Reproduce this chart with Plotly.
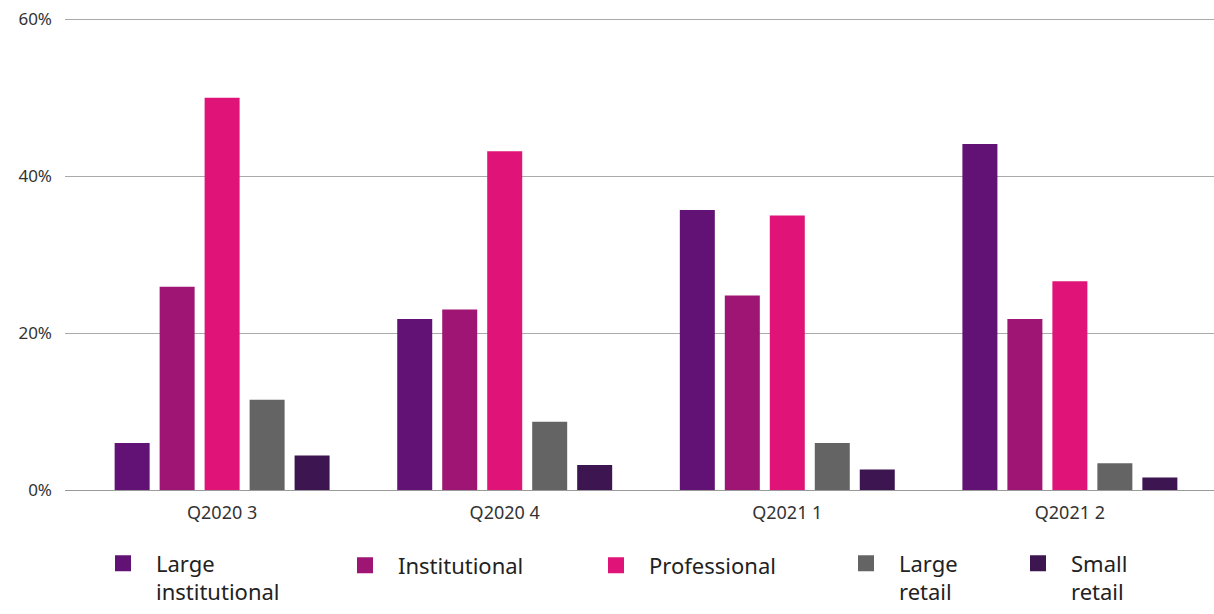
import plotly.graph_objects as go

quarters = ["Q2020 3", "Q2020 4", "Q2021 1", "Q2021 2"]
series_names = ["Large<br>institutional", "Institutional", "Professional", "Large<br>retail", "Small<br>retail"]
large_institutional = [6.0, 21.8, 35.7, 44.1]
institutional = [25.9, 23.0, 24.8, 21.8]
professional = [50.0, 43.2, 35.0, 26.6]
large_retail = [11.5, 8.7, 6.0, 3.4]
small_retail = [4.4, 3.2, 2.6, 1.6]
colors = ["#621274", "#9e1574", "#e01478", "#646464", "#3d1551"]
y_ticks = [0, 20, 40, 60]
y_tick_labels = ["0%", "20%", "40%", "60%"]
legend_x_px = [115, 357, 608, 858, 1030]

values = [large_institutional, institutional, professional, large_retail, small_retail]

W, H = 1214, 614
PLOT_L, PLOT_W = 65, 1149
PLOT_T, PLOT_H = 17, 473
LEGEND_BOTTOM = 613.5
LEGEND_TOP = 544.5

fig = go.Figure()
layout_legends = {}
for i, (name, vals, col) in enumerate(zip(series_names, values, colors)):
    lg = "legend" if i == 0 else f"legend{i+1}"
    fig.add_trace(go.Bar(x=quarters, y=vals, name=name, marker=dict(color=col, line=dict(width=0)),
                         showlegend=False))
    fig.add_trace(go.Scatter(x=[None], y=[None], mode="markers", name=name, legend=lg,
                             marker=dict(symbol="square", size=18, color=col)))
    two_line = "<br>" in name
    if two_line:
        ly, yanchor = (PLOT_T + PLOT_H - LEGEND_BOTTOM) / PLOT_H, "bottom"
    else:
        ly, yanchor = (PLOT_T + PLOT_H - LEGEND_TOP) / PLOT_H, "top"
    layout_legends[lg] = dict(
        x=(legend_x_px[i] - 25 - PLOT_L) / PLOT_W, xanchor="left",
        y=ly, yanchor=yanchor,
        font=dict(size=22, family="Noto Sans, sans-serif", color="#222222"),
        valign="top", itemwidth=56, bgcolor="rgba(0,0,0,0)",
    )

fig.update_layout(
    width=W, height=H,
    barmode="group", bargap=0.204, bargroupgap=0.222,
    plot_bgcolor="white", paper_bgcolor="white",
    margin=dict(l=PLOT_L, r=0, t=PLOT_T, b=H - PLOT_T - PLOT_H),
    font=dict(family="Noto Sans, sans-serif", color="#333333"),
    xaxis=dict(range=[-0.556, 3.51], showgrid=False, showline=False, zeroline=False,
               automargin=False,
               ticks="", tickfont=dict(size=18, color="#333333"), ticklabelstandoff=10),
    yaxis=dict(range=[0, 60.3], tickvals=y_ticks, ticktext=y_tick_labels,
               automargin=False,
               showgrid=True, gridcolor="#aaaaaa", gridwidth=1,
               zeroline=True, zerolinecolor="#999999", zerolinewidth=1,
               tickfont=dict(size=17, color="#333333"), ticklabelstandoff=12, showline=False),
    **layout_legends,
)

fig.write_html("out.html", config={"displayModeBar": False},
               post_script="document.body.style.margin='0';")
